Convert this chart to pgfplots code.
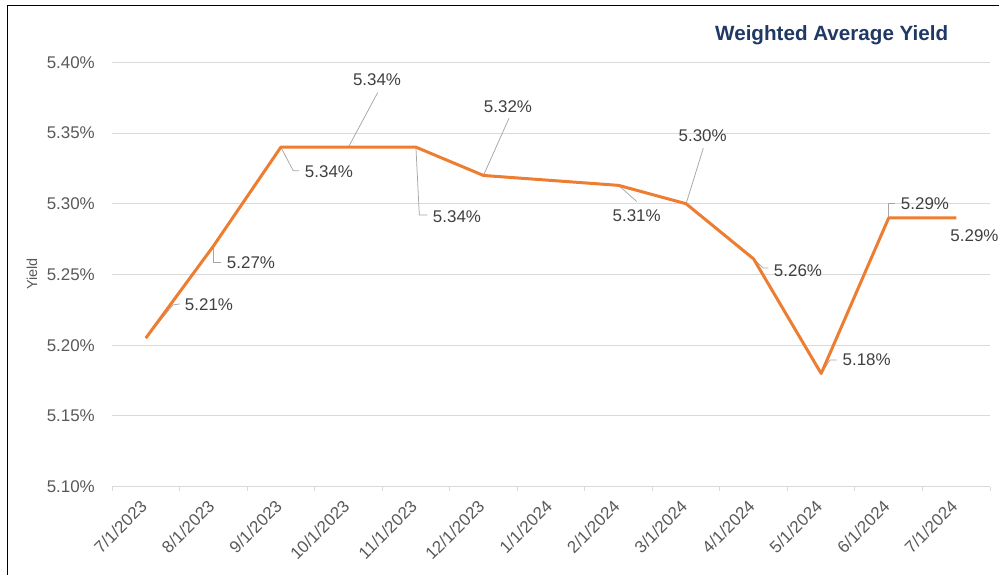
\documentclass[border=0pt]{standalone}
\usepackage{fontspec}
\setmainfont{Liberation Sans}
\usepackage{pgfplots}
\pgfplotsset{compat=1.18}
\definecolor{lineor}{HTML}{ED7D31}
\definecolor{gridc}{HTML}{D9D9D9}
\definecolor{tickc}{HTML}{595959}
\definecolor{labc}{HTML}{404040}
\definecolor{leadc}{HTML}{A6A6A6}
\definecolor{titc}{HTML}{1F3864}
\newcommand{\lf}{\fontsize{17}{17}\selectfont}
\begin{document}
\begin{tikzpicture}[x=1bp,y=1bp]
\begin{axis}[
  at={(112bp,88.3bp)}, anchor=south west,
  scale only axis, width=878bp, height=424.4bp,
  xmin=-0.5, xmax=12.5, ymin=5.10, ymax=5.40,
  axis line style={draw=none},
  ymajorgrids, grid style={gridc, line width=1bp},
  ytick={5.10,5.15,5.20,5.25,5.30,5.35,5.40},
  yticklabel={\pgfmathprintnumber[fixed,fixed zerofill,precision=2]{\tick}\%},
  /pgf/number format/assume math mode=true,
  ytick style={draw=none},
  xtick={0,...,12},
  xticklabels={7/1/2023,8/1/2023,9/1/2023,10/1/2023,11/1/2023,12/1/2023,1/1/2024,2/1/2024,3/1/2024,4/1/2024,5/1/2024,6/1/2024,7/1/2024},
  minor xtick={-0.5,0.5,...,12.5},
  xtick pos=bottom,
  tick align=outside,
  major tick length=0pt, minor tick length=4bp,
  major x tick style={draw=none},
  minor x tick style={gridc, line width=1bp},
  yticklabel style={font=\lf, text=tickc, anchor=east, inner sep=0pt, xshift=-17bp},
  xticklabel style={font=\lf, text=tickc, inner sep=0pt, xshift=-6.5bp, yshift=-12bp, rotate=45, anchor=north east},
  clip=false,
]
% leader lines
\draw[leadc, line width=0.75bp] (axis cs:0.003,5.205) -- (axis cs:0.403,5.2285) -- (axis cs:0.507,5.2292);
\draw[leadc, line width=0.75bp] (axis cs:1.0,5.27) -- (axis cs:1.0,5.2588) -- (axis cs:1.109,5.2588);
\draw[leadc, line width=0.75bp] (axis cs:2.0,5.34) -- (axis cs:2.184,5.3233) -- (axis cs:2.269,5.3233);
\draw[leadc, line width=0.75bp] (axis cs:3.0,5.34) -- (axis cs:3.434,5.3786);
\draw[leadc, line width=0.75bp] (axis cs:4.0,5.34) -- (axis cs:4.05,5.2921) -- (axis cs:4.168,5.2921);
\draw[leadc, line width=0.75bp] (axis cs:5.0,5.32) -- (axis cs:5.378,5.3605);
\draw[leadc, line width=0.75bp] (axis cs:7.0,5.313) -- (axis cs:7.269,5.3016);
\draw[leadc, line width=0.75bp] (axis cs:8.0,5.30) -- (axis cs:8.255,5.3393);
\draw[leadc, line width=0.75bp] (axis cs:9.0,5.261) -- (axis cs:9.143,5.2545) -- (axis cs:9.217,5.2545);
\draw[leadc, line width=0.75bp] (axis cs:10.0,5.18) -- (axis cs:10.131,5.1896) -- (axis cs:10.23,5.1896);
\draw[leadc, line width=0.75bp] (axis cs:11.0,5.29) -- (axis cs:11.0,5.30) -- (axis cs:11.093,5.30);
% series
\addplot[lineor, line width=3bp, line join=round, mark=none] coordinates {
(0,5.205) (1,5.27) (2,5.34) (3,5.34) (4,5.34) (5,5.32) (7,5.313) (8,5.30) (9,5.261) (10,5.18) (11,5.29) (12,5.29)};
% data labels
\tikzset{dl/.style={text=labc, font=\lf, inner sep=0pt}}
\node[dl] at (axis cs:0.936,5.2285) {5.21\%};
\node[dl] at (axis cs:1.558,5.2581) {5.27\%};
\node[dl] at (axis cs:2.713,5.3224) {5.34\%};
\node[dl] at (axis cs:3.424,5.3876) {5.34\%};
\node[dl] at (axis cs:4.608,5.2907) {5.34\%};
\node[dl] at (axis cs:5.363,5.3684) {5.32\%};
\node[dl] at (axis cs:7.269,5.2914) {5.31\%};
\node[dl] at (axis cs:8.246,5.348) {5.30\%};
\node[dl] at (axis cs:9.657,5.2528) {5.26\%};
\node[dl] at (axis cs:10.674,5.1896) {5.18\%};
\node[dl] at (axis cs:11.537,5.3004) {5.29\%};
\node[dl] at (axis cs:12.27,5.2773) {5.29\%};
\end{axis}
\node[font=\bfseries\fontsize{20.7}{20.7}\selectfont, text=titc] at (831.7,540) {Weighted Average Yield};
\node[font=\fontsize{14.5}{14.5}\selectfont, text=tickc, rotate=90] at (32,301) {Yield};
\draw[black, line width=1bp] (7.3,-5) -- (7.3,569) -- (1010,569);
\pgfresetboundingbox
\useasboundingbox (0,0) rectangle (999,575);
\end{tikzpicture}
\end{document}
